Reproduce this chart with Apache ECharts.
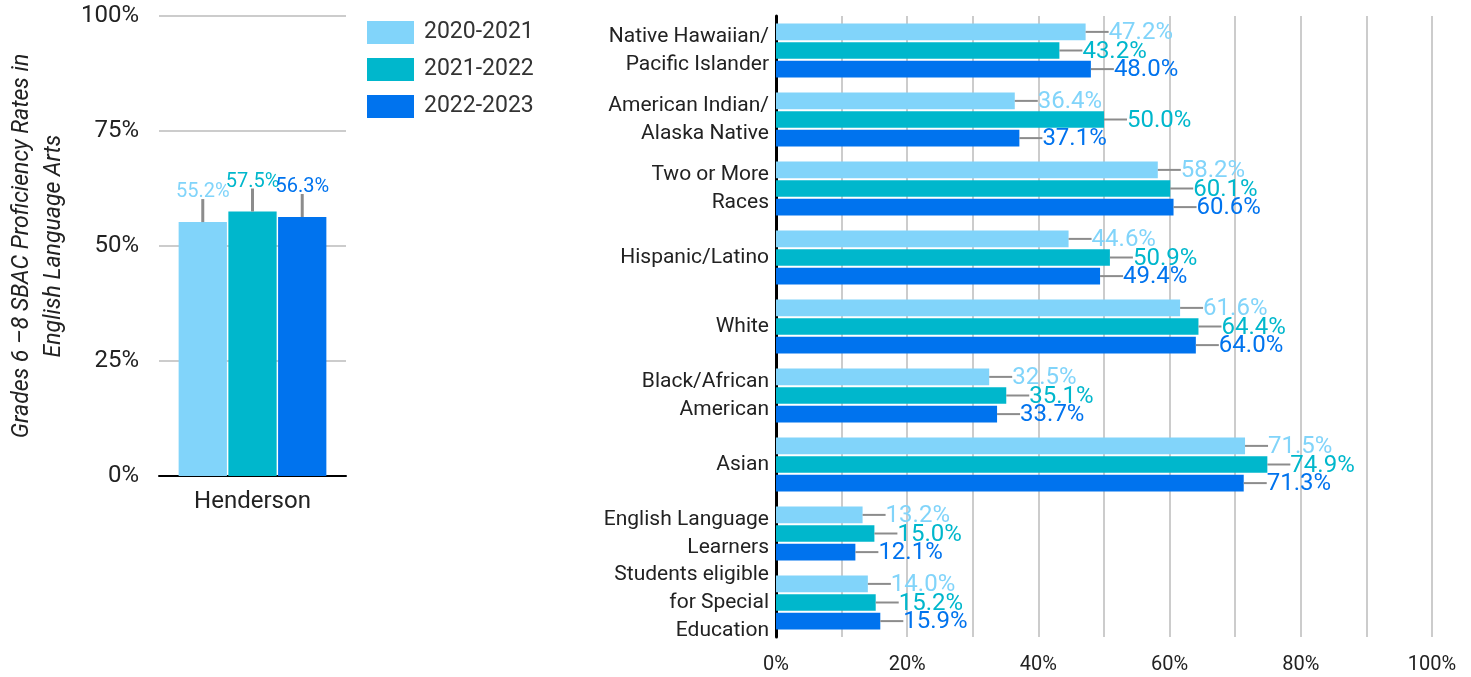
<!DOCTYPE html>
<html><head><meta charset="utf-8">
<script src="https://cdn.jsdelivr.net/npm/echarts@6/dist/echarts.min.js"></script>
<style>html,body{margin:0;padding:0;background:#fff}#c{width:1471px;height:677px}</style>
</head><body><div id="c"></div>
<script>
const years = ['2020-2021','2021-2022','2022-2023'];
const colors = ['#81D4FA','#00B7CC','#0073EE'];
const leftCats = ['Henderson'];
const left2021 = [55.2];
const left2122 = [57.5];
const left2223 = [56.3];
const groups = ['Native Hawaiian/\nPacific Islander','American Indian/\nAlaska Native','Two or More\nRaces','Hispanic/Latino','White','Black/African\nAmerican','Asian','English Language\nLearners','Students eligible\nfor Special\nEducation'];
const g2021 = [47.2,36.4,58.2,44.6,61.6,32.5,71.5,13.2,14.0];
const g2122 = [43.2,50.0,60.1,50.9,64.4,35.1,74.9,15.0,15.2];
const g2223 = [48.0,37.1,60.6,49.4,64.0,33.7,71.3,12.1,15.9];
const leftTicks = [0,25,50,75,100];
const rightTicks = [0,20,40,60,80,100];

const FONT = 'Roboto';
const ERR_PX = 23;
const leftSets = [left2021,left2122,left2223];
const rightSets = [g2021,g2122,g2223];
const LCG = 0.21, LBG = 0.03, RCG = 0.22, RBG = 0.12;

function offsetFor(band, catGap, barGap, n, i){
  const usable = band*(1-catGap);
  const bw = usable/(n+(n-1)*barGap);
  return -usable/2 + i*bw*(1+barGap) + bw/2;
}

const series = [];
leftSets.forEach((arr,i)=>{
  series.push({type:'bar', name:years[i], xAxisIndex:0, yAxisIndex:0, data:arr,
    barCategoryGap:(LCG*100)+'%', barGap:(LBG*100)+'%',
    itemStyle:{color:colors[i]}});
  series.push({type:'custom', name:years[i], xAxisIndex:0, yAxisIndex:0,
    data: arr.map((v,k)=>[k,v]), encode:{x:0,y:1}, z:3, clip:false,
    renderItem:(params,api)=>{
      const v = api.value(1);
      const p = api.coord([api.value(0), v]);
      const band = api.size([1,0])[0];
      const off = offsetFor(band, LCG, LBG, 3, i);
      const x = p[0]+off;
      return {type:'group', children:[
        {type:'line', shape:{x1:x, y1:p[1], x2:x, y2:p[1]-ERR_PX},
          style:{stroke:'#8c8c8c', lineWidth:3}},
        {type:'text', x:x, y:p[1]-ERR_PX+3,
          style:{text:v.toFixed(1)+'%', fill:colors[i], fontFamily:FONT, fontSize:20,
            align:'center', verticalAlign:'bottom'}}
      ]};
    }});
});
rightSets.forEach((arr,i)=>{
  series.push({type:'bar', name:years[i], xAxisIndex:1, yAxisIndex:1, data:arr,
    barCategoryGap:(RCG*100)+'%', barGap:(RBG*100)+'%',
    itemStyle:{color:colors[i]}});
  series.push({type:'custom', name:years[i], xAxisIndex:1, yAxisIndex:1,
    data: arr.map((v,k)=>[v,k]), encode:{x:0,y:1}, z:3, clip:false,
    renderItem:(params,api)=>{
      const v = api.value(0);
      const p = api.coord([v, api.value(1)]);
      const band = api.size([0,1])[1];
      const off = offsetFor(band, RCG, RBG, 3, i);
      const y = p[1]+off;
      return {type:'group', children:[
        {type:'line', shape:{x1:p[0], y1:y, x2:p[0]+ERR_PX, y2:y},
          style:{stroke:'#8c8c8c', lineWidth:2}},
        {type:'text', x:p[0]+ERR_PX, y:y+1,
          style:{text:v.toFixed(1)+'%', fill:colors[i], fontFamily:FONT, fontSize:24,
            align:'left', verticalAlign:'middle'}}
      ]};
    }});
});

const chart = echarts.init(document.getElementById('c'));
chart.setOption({
  animation:false,
  textStyle:{fontFamily:FONT},
  legend:{data:years, orient:'vertical', left:367, top:21, padding:0, itemWidth:47, itemHeight:23, itemGap:14,
    icon:'rect', textStyle:{fontFamily:FONT, fontSize:23, color:'#333', padding:[0,0,0,5]}},
  grid:[
    {left:159, right:1471-346, top:16, bottom:677-476, containLabel:false, outerBoundsMode:'none'},
    {left:776, right:1471-1432, top:16, bottom:677-637, containLabel:false, outerBoundsMode:'none'}
  ],
  xAxis:[
    {type:'category', gridIndex:0, data:leftCats,
      axisLine:{lineStyle:{color:'#000', width:2}}, axisTick:{show:false},
      axisLabel:{color:'#222', fontSize:24, margin:14, fontFamily:FONT}},
    {type:'value', gridIndex:1, min:0, max:100, interval:10,
      axisLine:{show:false}, axisTick:{show:false},
      splitLine:{lineStyle:{color:'#cccccc', width:2}},
      axisLabel:{color:'#222', fontSize:20, margin:18, fontFamily:FONT,
        formatter:v=> rightTicks.includes(v) ? v+'%' : ''}}
  ],
  yAxis:[
    {type:'value', gridIndex:0, min:0, max:100, interval:25,
      axisLine:{show:false}, axisTick:{show:false},
      splitLine:{lineStyle:{color:'#cccccc', width:2}},
      axisLabel:{color:'#222', fontSize:24, margin:20, fontFamily:FONT,
        formatter:v=> leftTicks.includes(v) ? v+'%' : ''},
      name:'Grades 6 \u20138 SBAC Proficiency Rates in\nEnglish Language Arts',
      nameLocation:'middle', nameGap:89, nameRotate:90,
      nameTextStyle:{fontStyle:'italic', fontSize:23, lineHeight:32, color:'#222', fontFamily:FONT}},
    {type:'category', gridIndex:1, data:groups, inverse:true,
      axisLine:{lineStyle:{color:'#000', width:3}}, axisTick:{show:false},
      axisLabel:{color:'#222', fontSize:21, lineHeight:28, margin:7, interval:0, fontFamily:FONT, align:'right'}}
  ],
  series
});
</script></body></html>
